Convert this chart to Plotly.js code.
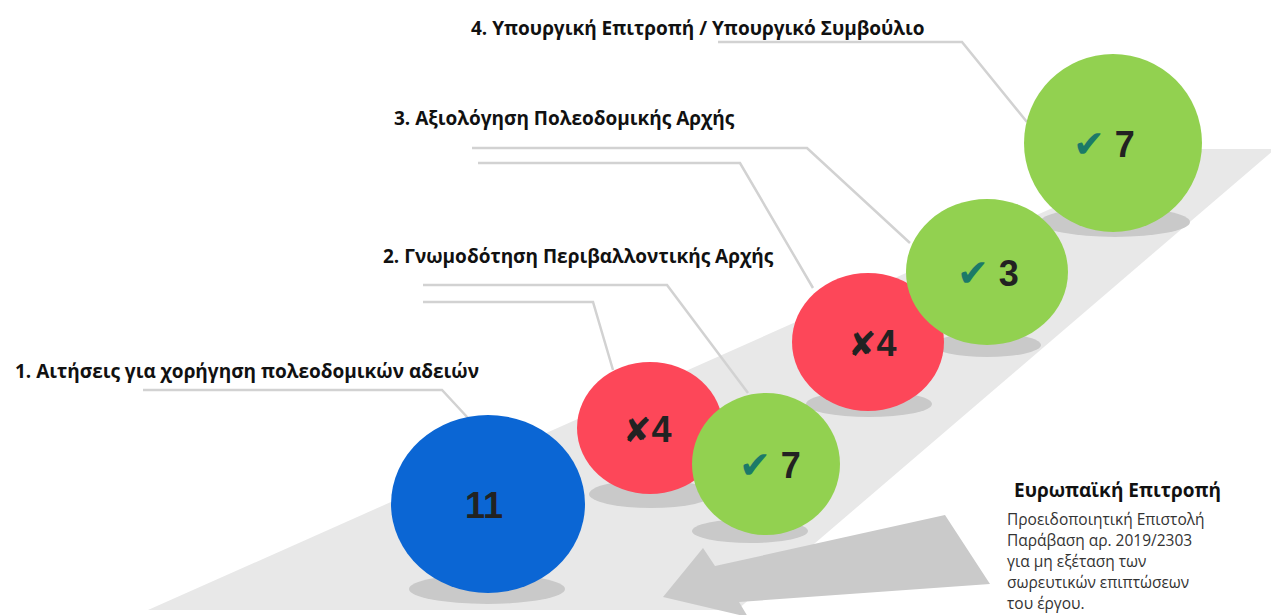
<!DOCTYPE html>
<html>
<head>
<meta charset="utf-8">
<script src="https://cdn.plot.ly/plotly-3.0.1.min.js"></script>
<style>html,body{margin:0;padding:0;background:#fff;}#chart{width:1271px;height:615px;}</style>
</head>
<body>
<div id="chart"></div>
<script>
// ---------- DATA ----------
const stageLabels = [
  "1. Αιτήσεις για χορήγηση πολεοδομικών αδειών",
  "2. Γνωμοδότηση Περιβαλλοντικής Αρχής",
  "3. Αξιολόγηση Πολεοδομικής Αρχής",
  "4. Υπουργική Επιτροπή / Υπουργικό Συμβούλιο"
];
const bubbleValues = [11, 4, 7, 4, 3, 7];
const bubbleStatus = ["total", "rejected", "approved", "rejected", "approved", "approved"];
const bubbleStage  = [1, 2, 2, 3, 3, 4];
const noteTitle = "Ευρωπαϊκή Επιτροπή";
const noteLines = [
  "Προειδοποιητική Επιστολή",
  "Παράβαση αρ. 2019/2303",
  "για μη εξέταση των",
  "σωρευτικών επιπτώσεων",
  "του έργου."
];

// ---------- LAYOUT GEOMETRY (pixel space) ----------
const W = 1271, H = 615;
const bubbleGeom = [
  {cx: 488, cy: 504, rx: 97, ry: 89, sx: 487, sy: 589, srx: 78, sry: 15, tx: 484},
  {cx: 650, cy: 428, rx: 73, ry: 66, sx: 651, sy: 494, srx: 62, sry: 14, tx: 647},
  {cx: 766, cy: 464, rx: 74, ry: 71, sx: 750, sy: 531, srx: 58, sry: 12, tx: 770},
  {cx: 868, cy: 342, rx: 76, ry: 69, sx: 869, sy: 404, srx: 63, sry: 13, tx: 872},
  {cx: 987, cy: 272, rx: 81, ry: 73, sx: 987, sy: 345, srx: 54, sry: 12, tx: 988},
  {cx: 1113, cy: 143, rx: 89, ry: 89, sx: 1115, sy: 222, srx: 75, sry: 15, tx: 1104}
];
const labelGeom = [
  {x: 13, y: 371}, {x: 381, y: 256}, {x: 392, y: 118}, {x: 469, y: 28}
];
const leaderPaths = [
  "M143,390 L442,390 L468,418",
  "M423,302 L593,302 L613,370",
  "M423,285 L667,285 L748,393",
  "M478,163 L740,163 L813,288",
  "M472,148 L807,148 L910,243",
  "M718,42 L962,42 L1027,122"
];
const statusColor = {total: "#0b66d4", rejected: "#fd4759", approved: "#92d150"};

const shapes = [];
// light band
shapes.push({type: "path", path: "M148,610 L1185,149 L1275,149 L737,610 Z",
  fillcolor: "#e8e8e8", line: {width: 0}, xref: "x", yref: "y"});
// big arrow
shapes.push({type: "path", path: "M945,515 L715,566 L703,548 L663,597 L748,617 L739,602 L990,584 Z",
  fillcolor: "#cacaca", line: {width: 0}, xref: "x", yref: "y"});
// leader lines
leaderPaths.forEach(p => shapes.push({type: "path", path: p, xref: "x", yref: "y",
  line: {color: "#d2d2d2", width: 2.5}}));
// shadows
bubbleValues.forEach((v, i) => {
  const g = bubbleGeom[i];
  shapes.push({type: "circle", xref: "x", yref: "y",
    x0: g.sx - g.srx, x1: g.sx + g.srx, y0: g.sy - g.sry, y1: g.sy + g.sry,
    fillcolor: "#c9c9c9", line: {width: 0}});
});
// bubbles
bubbleValues.forEach((v, i) => {
  const g = bubbleGeom[i];
  shapes.push({type: "circle", xref: "x", yref: "y",
    x0: g.cx - g.rx, x1: g.cx + g.rx, y0: g.cy - g.ry, y1: g.cy + g.ry,
    fillcolor: statusColor[bubbleStatus[i]], line: {width: 0}});
});

const annotations = [];
bubbleValues.forEach((v, i) => {
  const g = bubbleGeom[i];
  let txt;
  if (bubbleStatus[i] === "total") txt = String(v);
  else if (bubbleStatus[i] === "rejected")
    txt = '<span style="font-family:DejaVu Sans;font-size:34px">✘</span>' + v;
  else
    txt = '<span style="color:#1b7a68;font-family:DejaVu Sans;font-size:38px">✔</span> ' + v;
  annotations.push({x: g.tx, y: g.cy + 1, xref: "x", yref: "y", text: txt, showarrow: false,
    xanchor: "center", yanchor: "middle",
    font: {family: "Liberation Sans, Arial, sans-serif", size: 36, color: "#222222", weight: "bold"}});
});
stageLabels.forEach((t, i) => {
  const g = labelGeom[i];
  annotations.push({x: g.x, y: g.y, xref: "x", yref: "y", text: "<b>" + t + "</b>", showarrow: false,
    xanchor: "left", yanchor: "middle",
    font: {family: "Open Sans, sans-serif", size: 19, color: "#111111"}});
});
annotations.push({x: 1117, y: 490, xref: "x", yref: "y", text: "<b>" + noteTitle + "</b>", showarrow: false,
  xanchor: "center", yanchor: "middle", font: {family: "Open Sans, sans-serif", size: 19, color: "#111111"}});
noteLines.forEach((t, i) => {
  annotations.push({x: 1005, y: 519 + i * 21, xref: "x", yref: "y", text: t, showarrow: false,
    xanchor: "left", yanchor: "middle", font: {family: "Open Sans, sans-serif", size: 15.5, color: "#333333"}});
});

const layout = {
  width: W, height: H, autosize: false,
  margin: {l: 0, r: 0, t: 0, b: 0, pad: 0},
  paper_bgcolor: "#ffffff", plot_bgcolor: "#ffffff",
  xaxis: {range: [0, W], visible: false, fixedrange: true},
  yaxis: {range: [H, 0], visible: false, fixedrange: true},
  showlegend: false,
  shapes: shapes,
  annotations: annotations
};
Plotly.newPlot("chart", [{x: [], y: [], type: "scatter", hoverinfo: "skip"}], layout, {displayModeBar: false, staticPlot: true});
</script>
</body>
</html>
